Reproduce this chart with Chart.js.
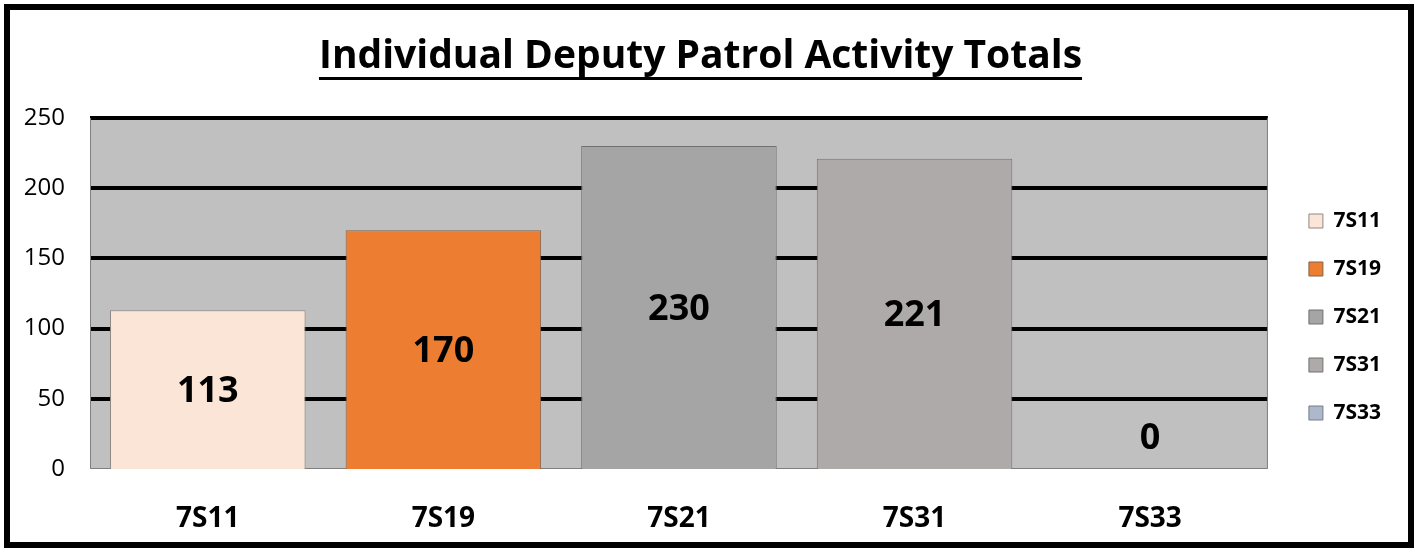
<!DOCTYPE html>
<html>
<head>
<meta charset="utf-8">
<script src="https://cdn.jsdelivr.net/npm/chart.js@4"></script>
<style>
  html, body { margin: 0; padding: 0; background: #fff; }
  .frame {
    position: absolute; left: 4px; top: 4px;
    width: 1398px; height: 532px;
    border: 6px solid #000; background: #fff;
  }
  canvas { display: block; }
</style>
</head>
<body>
<div class="frame"><canvas id="chart" width="1398" height="532"></canvas></div>
<script>
const deputies = ['7S11', '7S19', '7S21', '7S31', '7S33'];
const totals = [113, 170, 230, 221, 0];
const barColors = ['#FBE5D6', '#ED7D31', '#A5A5A5', '#AEAAAA', '#ADB9CA'];
const barBorders = ['#8f8884', '#80624c', '#707070', '#737171', '#757d8a'];
const yTicks = [0, 50, 100, 150, 200, 250];

const fontFamily = "'Open Sans', 'Noto Sans', sans-serif";

// grey plot background plus thin frame on left/right/bottom
const plotArea = {
  id: 'plotArea',
  beforeDraw(chart) {
    let {ctx, chartArea: a} = chart;
    ctx.save();
    ctx.fillStyle = '#C0C0C0';
    ctx.fillRect(a.left, a.top, a.right - a.left, a.bottom - a.top);
    ctx.restore();
  },
  beforeDatasetsDraw(chart) {
    let {ctx, chartArea: a} = chart;
    ctx.save();
    ctx.strokeStyle = '#7f7f7f';
    ctx.lineWidth = 1;
    ctx.beginPath();
    ctx.moveTo(a.left + 0.5, a.top);
    ctx.lineTo(a.left + 0.5, a.bottom - 0.5);
    ctx.lineTo(a.right - 0.5, a.bottom - 0.5);
    ctx.lineTo(a.right - 0.5, a.top);
    ctx.stroke();
    ctx.restore();
  }
};

// value in the middle of each bar
const barValues = {
  id: 'barValues',
  afterDatasetsDraw(chart) {
    let ctx = chart.ctx;
    let meta = chart.getDatasetMeta(0);
    ctx.save();
    ctx.font = 'bold 36px ' + fontFamily;
    ctx.fillStyle = '#000';
    ctx.textAlign = 'center';
    ctx.textBaseline = 'middle';
    meta.data.forEach((bar, i) => {
      let y = (bar.y + bar.base) / 2;
      if (bar.base - bar.y < 64) y = bar.base - 32;
      ctx.fillText(String(totals[i]), bar.x, y + 2);
    });
    ctx.restore();
  }
};

// underline under the title
const titleUnderline = {
  id: 'titleUnderline',
  afterDraw(chart) {
    let ctx = chart.ctx;
    let opts = chart.options.plugins.title;
    let tb = chart.titleBlock;
    ctx.save();
    ctx.font = 'bold ' + opts.font.size + 'px ' + fontFamily;
    let w = ctx.measureText(opts.text).width;
    let cx = (tb.left + tb.right) / 2;
    ctx.fillStyle = '#000';
    ctx.fillRect(cx - w / 2, 67, w, 3);
    ctx.restore();
  }
};

let chart = new Chart(document.getElementById('chart'), {
  type: 'bar',
  data: {
    labels: deputies,
    datasets: [{
      data: totals,
      backgroundColor: barColors,
      borderColor: barBorders,
      borderWidth: 1,
      barPercentage: 0.83,
      categoryPercentage: 1
    }]
  },
  options: {
    responsive: false,
    animation: false,
    layout: { padding: { top: 0, right: 17, bottom: 0, left: 0 } },
    scales: {
      x: {
        grid: { display: false },
        border: { display: false },
        ticks: {
          color: '#000',
          padding: 25,
          font: { family: fontFamily, size: 28, weight: 'bold' }
        },
        afterFit: s => { s.height = 73; }
      },
      y: {
        min: 0,
        max: 250,
        afterBuildTicks: s => { s.ticks = yTicks.map(v => ({value: v})); },
        grid: {
          color: '#000',
          lineWidth: c => c.tick && c.tick.value === 0 ? 0 : 4,
          drawTicks: false
        },
        border: { display: false },
        ticks: {
          color: '#000',
          padding: 25,
          font: { family: fontFamily, size: 24 }
        },
        afterFit: s => { s.width = 80; }
      },
      gap: {
        position: 'right',
        grid: { display: false },
        border: { display: false },
        ticks: { display: false },
        afterFit: s => { s.width = 14; }
      }
    },
    plugins: {
      title: {
        display: true,
        text: 'Individual Deputy Patrol Activity Totals',
        color: '#000',
        font: { family: fontFamily, size: 39, weight: 'bold', lineHeight: 1.2 },
        padding: { top: 23, bottom: 38.2 }
      },
      legend: {
        position: 'right',
        align: 'center',
        title: { display: true, text: '', padding: 0, font: { size: 82, lineHeight: 1 } },
        labels: {
          color: '#000',
          boxWidth: 14,
          boxHeight: 14,
          padding: 27,
          font: { family: fontFamily, size: 21, weight: 'bold' },
          generateLabels: c => deputies.map((d, i) => ({
            text: d,
            fillStyle: barColors[i],
            strokeStyle: barBorders[i],
            fontColor: '#000',
            lineWidth: 1,
            hidden: false,
            index: i
          }))
        }
      },
      tooltip: { enabled: false }
    }
  },
  plugins: [plotArea, barValues, titleUnderline]
});
</script>
</body>
</html>
